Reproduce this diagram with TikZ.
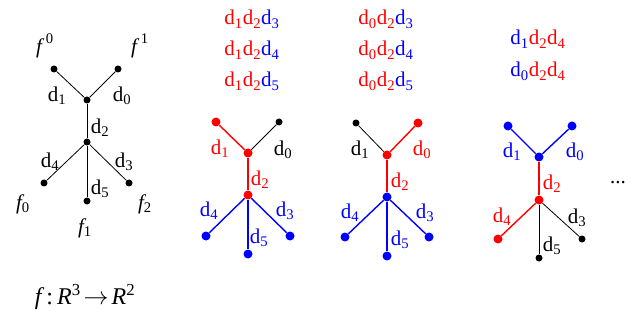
\documentclass[tikz,border=0pt]{standalone}
\usepackage{fontspec}
\setmainfont{Liberation Serif}
\usetikzlibrary{positioning}
\newcommand{\dd}[1]{d\textsubscript{#1}}
\newcommand{\ff}{{\itshape f}}
\tikzset{
  dot/.style={circle,fill,inner sep=0pt,minimum size=7pt},
  cdot/.style={circle,fill,inner sep=0pt,minimum size=9pt},
  thinedge/.style={line width=0.8pt},
  coledge/.style={line width=1.4pt},
  lbl/.style={inner sep=0pt}
}
\begin{document}
\begin{tikzpicture}[x=1pt,y=-1pt,every node/.style={font=\fontsize{21}{25}\selectfont}]
\useasboundingbox (0,0) rectangle (634,323);
% tree 1
\node[dot] (A-tl) at (54,69) {}; \node[dot] (A-tr) at (118,69) {};
\node[dot] (A-up) at (87,100) {}; \node[dot] (A-lo) at (87,142) {};
\node[dot] (A-bl) at (44,183) {}; \node[dot] (A-bm) at (87,201) {}; \node[dot] (A-br) at (129,183) {};
\draw[thinedge] (A-tl)--(A-up); \draw[thinedge] (A-tr)--(A-up); \draw[thinedge] (A-up)--(A-lo);
\draw[thinedge] (A-lo)--(A-bl); \draw[thinedge] (A-lo)--(A-bm); \draw[thinedge] (A-lo)--(A-br);
\node[lbl] (A-d1) at (57,96) {\dd1}; \node[lbl] (A-d0) at (122,96) {\dd0};
\node[lbl] (A-d2) at (100,128) {\dd2};
\node[lbl] (A-d4) at (50,162) {\dd4}; \node[lbl] (A-d3) at (124,162) {\dd3};
\node[lbl] (A-d5) at (100,189) {\dd5};
\node[lbl] (A-f0) at (45,46) {\ff\kern4pt\raisebox{0.2ex}{\textsuperscript{0}}}; \node[lbl] (A-f1) at (140,46) {\ff\kern4pt\raisebox{0.2ex}{\textsuperscript{1}}};
\node[lbl] (A-g0) at (23,204) {\ff\textsubscript{0}}; \node[lbl] (A-g1) at (85,228) {\ff\textsubscript{1}};
\node[lbl] (A-g2) at (145,204) {\ff\textsubscript{2}};
\node[lbl,font=\fontsize{24}{28}\selectfont] (map) at (85,297) {\ff\kern5pt:\kern4pt{\itshape R}\textsuperscript{3}\kern3pt$\rightarrow$\kern3pt{\itshape R}\textsuperscript{2}};
% tree 2
\node[lbl,anchor=base] (B-w1) at (252,25) {\textcolor{red}{\dd1\dd2}\textcolor{blue}{\dd3}};
\node[lbl,anchor=base] (B-w2) at (252,56) {\textcolor{red}{\dd1\dd2}\textcolor{blue}{\dd4}};
\node[lbl,anchor=base] (B-w3) at (252,87) {\textcolor{red}{\dd1\dd2}\textcolor{blue}{\dd5}};
\node[cdot,red] (B-tl) at (216,122) {}; \node[dot] (B-tr) at (279,122) {};
\node[cdot,red] (B-up) at (248,153) {}; \node[cdot,red] (B-lo) at (248,195) {};
\node[cdot,blue] (B-bl) at (206,236) {}; \node[cdot,blue] (B-bm) at (248,254) {}; \node[cdot,blue] (B-br) at (290,236) {};
\draw[coledge,red] (B-tl)--(B-up); \draw[thinedge] (B-tr)--(B-up); \draw[coledge,red] (B-up)--(B-lo);
\draw[coledge,blue] (B-lo)--(B-bl); \draw[coledge,blue] (B-lo)--(B-bm); \draw[coledge,blue] (B-lo)--(B-br);
\node[lbl,red] (B-d1) at (220,149) {\dd1}; \node[lbl] (B-d0) at (283,150) {\dd0};
\node[lbl,red] (B-d2) at (260,180) {\dd2};
\node[lbl,blue] (B-d4) at (209,211) {\dd4}; \node[lbl,blue] (B-d3) at (285,211) {\dd3};
\node[lbl,blue] (B-d5) at (259,238) {\dd5};
% tree 3
\node[lbl,anchor=base] (C-w1) at (386,25) {\textcolor{red}{\dd0\dd2}\textcolor{blue}{\dd3}};
\node[lbl,anchor=base] (C-w2) at (386,56) {\textcolor{red}{\dd0\dd2}\textcolor{blue}{\dd4}};
\node[lbl,anchor=base] (C-w3) at (386,87) {\textcolor{red}{\dd0\dd2}\textcolor{blue}{\dd5}};
\node[dot] (C-tl) at (356,123) {}; \node[cdot,red] (C-tr) at (418,123) {};
\node[cdot,red] (C-up) at (387,155) {}; \node[cdot,blue] (C-lo) at (387,197) {};
\node[cdot,blue] (C-bl) at (345,237) {}; \node[cdot,blue] (C-bm) at (387,256) {}; \node[cdot,blue] (C-br) at (429,237) {};
\draw[thinedge] (C-tl)--(C-up); \draw[coledge,red] (C-tr)--(C-up); \draw[coledge,red] (C-up)--(C-lo);
\draw[coledge,blue] (C-lo)--(C-bl); \draw[coledge,blue] (C-lo)--(C-bm); \draw[coledge,blue] (C-lo)--(C-br);
\node[lbl] (C-d1) at (360,150) {\dd1}; \node[lbl,red] (C-d0) at (422,150) {\dd0};
\node[lbl,red] (C-d2) at (400,182) {\dd2};
\node[lbl,blue] (C-d4) at (350,213) {\dd4}; \node[lbl,blue] (C-d3) at (425,213) {\dd3};
\node[lbl,blue] (C-d5) at (400,240) {\dd5};
% tree 4
\node[lbl,anchor=base] (D-w1) at (538,45) {\textcolor{blue}{\dd1}\textcolor{red}{\dd2\dd4}};
\node[lbl,anchor=base] (D-w2) at (538,77) {\textcolor{blue}{\dd0}\textcolor{red}{\dd2\dd4}};
\node[cdot,blue] (D-tl) at (508,126) {}; \node[cdot,blue] (D-tr) at (572,126) {};
\node[cdot,blue] (D-up) at (539,157) {}; \node[cdot,red] (D-lo) at (539,200) {};
\node[cdot,red] (D-bl) at (498,239) {}; \node[dot] (D-bm) at (539,258) {}; \node[dot] (D-br) at (582,239) {};
\draw[coledge,blue] (D-tl)--(D-up); \draw[coledge,blue] (D-tr)--(D-up); \draw[coledge,red] (D-up)--(D-lo);
\draw[coledge,red] (D-lo)--(D-bl); \draw[thinedge] (D-lo)--(D-bm); \draw[thinedge] (D-lo)--(D-br);
\node[lbl,blue] (D-d1) at (512,152) {\dd1}; \node[lbl,blue] (D-d0) at (575,152) {\dd0};
\node[lbl,red] (D-d2) at (552,184) {\dd2};
\node[lbl,red] (D-d4) at (502,217) {\dd4}; \node[lbl] (D-d3) at (577,218) {\dd3};
\node[lbl] (D-d5) at (552,246) {\dd5};
\node[lbl,anchor=base] (dots) at (618,184) {...};
\end{tikzpicture}
\end{document}
